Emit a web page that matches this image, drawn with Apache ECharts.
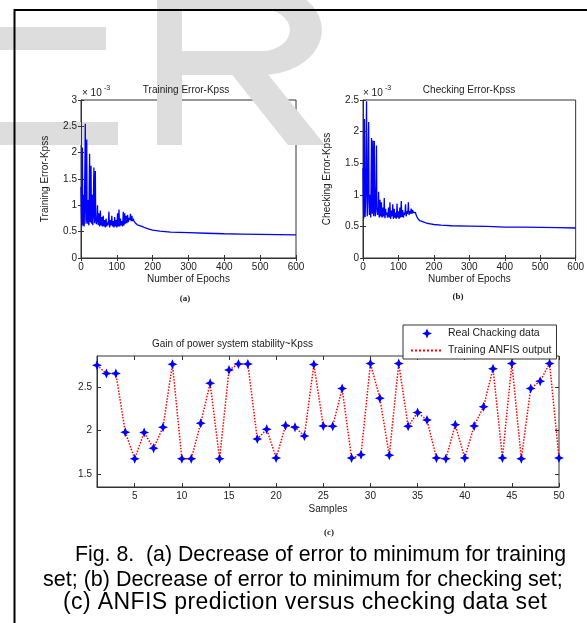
<!DOCTYPE html>
<html style="height: 100%">
<head>
    <meta charset="utf-8">
    <script src="https://cdn.jsdelivr.net/npm/echarts@6/dist/echarts.min.js"></script>
    <title>Fig. 8 ANFIS errors</title>
</head>
<body style="height: 100%; margin: 0; background: #fff">
<div id="container" style="width: 587px; height: 623px"></div>
<script type="text/javascript">
    // epochs of the error curves (every epoch while it oscillates, sparse on the flat tail)
    let epochs = [0, 1, 2, 3, 4, 5, 6, 7, 8, 9, 10, 11, 12, 13, 14, 15, 16, 17, 18, 19,
        20, 21, 22, 23, 24, 25, 26, 27, 28, 29, 30, 31, 32, 33, 34, 35, 36, 37, 38, 39,
        40, 41, 42, 43, 44, 45, 46, 47, 48, 49, 50, 51, 52, 53, 54, 55, 56, 57, 58, 59,
        60, 61, 62, 63, 64, 65, 66, 67, 68, 69, 70, 71, 72, 73, 74, 75, 76, 77, 78, 79,
        80, 81, 82, 83, 84, 85, 86, 87, 88, 89, 90, 91, 92, 93, 94, 95, 96, 97, 98, 99,
        100, 101, 102, 103, 104, 105, 106, 107, 108, 109, 110, 111, 112, 113, 114, 115, 116, 117, 118, 119,
        120, 121, 122, 123, 124, 125, 126, 127, 128, 129, 130, 131, 132, 133, 134, 135, 136, 137, 138, 139,
        140, 141, 142, 143, 144, 145, 146, 147, 148, 149, 150, 151, 152, 153, 154, 155, 156, 157, 158, 159,
        160, 170, 180, 190, 200, 220, 250, 300, 350, 400, 450, 500, 550, 600]
    // training error, x 10^-3
    let trainErr = [1.35, 0.9, 0.6, 1.5, 2.1, 0.7, 0.62, 1.2, 1.1, 0.6, 0.58, 1.8, 2.55, 0.9, 0.65, 1.6, 2.25, 0.8, 0.7, 0.65,
        1.1, 0.7, 0.62, 1.4, 1.98, 0.75, 0.68, 1.2, 1.75, 0.7, 0.65, 0.9, 1.2, 0.62, 0.6, 1.3, 1.72, 0.8, 0.66, 1.2,
        1.65, 0.75, 0.7, 0.64, 0.62, 0.8, 1.0, 0.7, 0.63, 0.7, 0.85, 0.65, 0.6, 0.75, 0.9, 0.68, 0.62, 0.7, 0.78, 0.64,
        0.6, 0.72, 0.8, 0.66, 0.6, 0.68, 0.72, 0.62, 0.58, 0.66, 0.75, 0.64, 0.6, 0.68, 0.7, 0.62, 0.6, 0.74, 0.88, 0.66,
        0.58, 0.64, 0.72, 0.62, 0.6, 0.7, 0.8, 0.64, 0.6, 0.66, 0.7, 0.62, 0.58, 0.68, 0.78, 0.64, 0.6, 0.66, 0.72, 0.62,
        0.58, 0.7, 0.85, 0.66, 0.6, 0.75, 0.92, 0.7, 0.6, 0.66, 0.75, 0.66, 0.62, 0.66, 0.7, 0.64, 0.6, 0.72, 0.88, 0.7,
        0.62, 0.72, 0.85, 0.7, 0.65, 0.72, 0.8, 0.7, 0.66, 0.72, 0.82, 0.72, 0.68, 0.7, 0.76, 0.72, 0.7, 0.76, 0.84, 0.74,
        0.7, 0.74, 0.8, 0.74, 0.7, 0.73, 0.75, 0.71, 0.68, 0.7, 0.7, 0.67, 0.66, 0.66, 0.66, 0.64, 0.63, 0.63, 0.63, 0.62,
        0.62, 0.6, 0.57, 0.55, 0.53, 0.51, 0.49, 0.48, 0.47, 0.46, 0.455, 0.45, 0.445, 0.44]
    // checking error, x 10^-3
    let checkErr = [1.42, 0.9, 0.62, 1.6, 2.2, 0.8, 0.65, 0.9, 1.2, 1.9, 2.48, 1.0, 0.66, 0.9, 1.3, 1.8, 2.15, 0.9, 0.68, 0.8,
        1.0, 0.7, 0.64, 1.3, 1.9, 0.9, 0.7, 1.2, 1.86, 0.8, 0.66, 1.3, 1.85, 0.9, 0.7, 0.66, 0.64, 1.2, 1.78, 0.8,
        0.72, 0.68, 0.66, 0.8, 1.05, 0.7, 0.64, 0.7, 0.92, 0.7, 0.66, 0.7, 0.88, 0.68, 0.64, 0.7, 0.8, 0.7, 0.66, 0.75,
        0.95, 0.7, 0.63, 0.7, 0.78, 0.68, 0.65, 0.68, 0.72, 0.64, 0.62, 0.7, 0.8, 0.68, 0.64, 0.72, 0.88, 0.7, 0.62, 0.68,
        0.75, 0.66, 0.64, 0.72, 0.85, 0.68, 0.62, 0.7, 0.78, 0.68, 0.64, 0.68, 0.72, 0.66, 0.62, 0.72, 0.86, 0.7, 0.64, 0.68,
        0.74, 0.66, 0.62, 0.7, 0.8, 0.68, 0.64, 0.75, 0.9, 0.72, 0.65, 0.7, 0.76, 0.68, 0.64, 0.68, 0.72, 0.68, 0.66, 0.74,
        0.85, 0.72, 0.66, 0.7, 0.74, 0.7, 0.68, 0.76, 0.88, 0.74, 0.68, 0.7, 0.74, 0.72, 0.7, 0.74, 0.78, 0.74, 0.7, 0.72,
        0.76, 0.74, 0.72, 0.74, 0.75, 0.72, 0.7, 0.71, 0.72, 0.7, 0.68, 0.67, 0.66, 0.65, 0.63, 0.63, 0.62, 0.61, 0.6, 0.6,
        0.59, 0.57, 0.55, 0.54, 0.53, 0.52, 0.51, 0.505, 0.5, 0.49, 0.49, 0.485, 0.48, 0.475]

    let samples = [1, 2, 3, 4, 5, 6, 7, 8, 9, 10, 11, 12, 13, 14, 15, 16, 17, 18, 19, 20,
        21, 22, 23, 24, 25, 26, 27, 28, 29, 30, 31, 32, 33, 34, 35, 36, 37, 38, 39, 40,
        41, 42, 43, 44, 45, 46, 47, 48, 49, 50]
    let checkingData = [2.745, 2.65, 2.65, 1.984, 1.68, 1.98, 1.80, 2.04, 2.757, 1.68,
        1.68, 2.086, 2.54, 1.68, 2.69, 2.76, 2.76, 1.905, 2.018, 1.69,
        2.06, 2.04, 1.94, 2.753, 2.055, 2.05, 2.48, 1.69, 1.727, 2.765,
        2.37, 1.72, 2.765, 2.05, 2.206, 2.123, 1.69, 1.68, 2.067, 1.69,
        2.055, 2.274, 2.706, 1.69, 2.765, 1.68, 2.48, 2.564, 2.765, 1.69]
    let anfisOutput = checkingData

    let sampleTicks = [5, 10, 15, 20, 25, 30, 35, 40, 45, 50]
    let gainTicks = [1.5, 2, 2.5]

    // caption: the last line is spread a little wider in the original
    let captionLine3 = '(c) ANFIS prediction versus checking data set'

    function pairs(xs, ys) {
        return xs.map((x, i) => [x, ys[i]])
    }

    let font = "'Liberation Sans', Arial, sans-serif"
    let axisColor = '#333'
    let txt = '#222'

    function ax(grid, min, max, opts) {
        return Object.assign({
            type: 'value', gridIndex: grid, min: min, max: max,
            axisLine: {show: true, onZero: false, lineStyle: {color: axisColor, width: 1}},
            axisTick: {inside: true, length: 3, lineStyle: {color: axisColor}},
            axisLabel: {fontSize: 10, fontFamily: font, color: txt, margin: 4},
            splitLine: {show: false},
            nameTextStyle: {fontSize: 10, fontFamily: font, color: txt},
            nameLocation: 'middle'
        }, opts)
    }

    function label(x, y, text, size, align, color) {
        return {
            type: 'text', z: 10, x: x, y: y,
            style: {text: text, font: size + 'px ' + font, fill: color || txt, textAlign: align, textVerticalAlign: 'middle', align: align, verticalAlign: 'middle'}
        }
    }

    let dom = document.getElementById('container')
    let chart = echarts.init(dom, null, {renderer: 'canvas'})

    // lay out the spread caption line character by character
    let capSize = 23
    let capFont = capSize + 'px ' + font
    let chars = captionLine3.split('')
    let capWidths = chars.map(c => echarts.format.getTextRect(c, capFont).width)
    let capStart = 63, capEnd = 547
    let capGap = (capEnd - capStart - capWidths.reduce((a, b) => a + b, 0)) / (chars.length - 1)
    let capX = capStart
    let line3 = []
    chars.forEach((c, i) => {
        if (c !== ' ') line3.push(label(capX, 603, c, capSize, 'left', '#000'))
        capX += capWidths[i] + capGap
    })

    let wm = '#dddddd'
    let serif = 'bold 9px "Liberation Serif", serif'
    chart.setOption({
        backgroundColor: '#fff',
        animation: false,
        grid: [
            {left: 81, top: 100, width: 215, height: 158, show: true, borderColor: axisColor, borderWidth: 1, backgroundColor: 'transparent'},
            {left: 363, top: 100, width: 214, height: 158, show: true, borderColor: axisColor, borderWidth: 1, backgroundColor: 'transparent'},
            {left: 97, top: 356, width: 462, height: 131, show: true, borderColor: axisColor, borderWidth: 1, backgroundColor: 'transparent'}
        ],
        xAxis: [
            ax(0, 0, 600, {interval: 100, name: 'Number of Epochs', nameGap: 16}),
            ax(0, 0, 600, {interval: 100, position: 'top', axisLine: {show: false}, axisLabel: {show: false}}),
            ax(1, 0, 600, {interval: 100, name: 'Number of Epochs', nameGap: 16}),
            ax(1, 0, 600, {interval: 100, position: 'top', axisLine: {show: false}, axisLabel: {show: false}}),
            ax(2, 1, 50, {name: 'Samples', nameGap: 17,
                axisTick: {inside: true, length: 4, lineStyle: {color: axisColor}, customValues: sampleTicks},
                axisLabel: {fontSize: 10, fontFamily: font, color: txt, margin: 4, customValues: sampleTicks}}),
            ax(2, 1, 50, {position: 'top', axisLine: {show: false}, axisLabel: {show: false},
                axisTick: {inside: true, length: 4, lineStyle: {color: axisColor}, customValues: sampleTicks}})
        ],
        yAxis: [
            ax(0, 0, 3, {interval: 0.5, name: 'Training Error-Kpss', nameGap: 31, nameRotate: 90}),
            ax(0, 0, 3, {interval: 0.5, position: 'right', axisLine: {show: false}, axisLabel: {show: false}}),
            ax(1, 0, 2.5, {interval: 0.5, name: 'Checking Error-Kpss', nameGap: 31, nameRotate: 90}),
            ax(1, 0, 2.5, {interval: 0.5, position: 'right', axisLine: {show: false}, axisLabel: {show: false}}),
            ax(2, 1.36, 2.85, {
                axisTick: {inside: true, length: 4, lineStyle: {color: axisColor}, customValues: gainTicks},
                axisLabel: {fontSize: 10, fontFamily: font, color: txt, margin: 5, customValues: gainTicks}}),
            ax(2, 1.36, 2.85, {position: 'right', axisLine: {show: false}, axisLabel: {show: false},
                axisTick: {inside: true, length: 4, lineStyle: {color: axisColor}, customValues: gainTicks}})
        ],
        legend: {
            orient: 'vertical', left: 403, top: 325,
            backgroundColor: '#fff', borderColor: axisColor, borderWidth: 1,
            padding: [3, 5, 3, 7], itemWidth: 32, itemHeight: 10, itemGap: 6,
            textStyle: {fontSize: 10.5, fontFamily: font, color: txt},
            data: [
                {name: 'Real Chacking data'},
                {name: 'Training ANFIS output', itemStyle: {color: 'rgba(0,0,0,0)', borderWidth: 0}}
            ]
        },
        series: [
            {
                type: 'line', xAxisIndex: 0, yAxisIndex: 0, data: pairs(epochs, trainErr),
                showSymbol: false, lineStyle: {color: '#0000ff', width: 1.3}
            },
            {
                type: 'line', xAxisIndex: 2, yAxisIndex: 2, data: pairs(epochs, checkErr),
                showSymbol: false, lineStyle: {color: '#0000ff', width: 1.3}
            },
            {
                name: 'Training ANFIS output', type: 'line', xAxisIndex: 4, yAxisIndex: 4,
                data: pairs(samples, anfisOutput), symbol: 'none',
                itemStyle: {color: '#ff0000'},
                lineStyle: {color: '#ff0000', width: 1.5, type: 'dotted'}, z: 3
            },
            {
                name: 'Real Chacking data', type: 'scatter', xAxisIndex: 4, yAxisIndex: 4,
                data: pairs(samples, checkingData),
                symbol: 'path://M0,-10 L3,-3 L10,0 L3,3 L0,10 L-3,3 L-10,0 L-3,-3 Z',
                symbolSize: 10, itemStyle: {color: '#0000ff', opacity: 1}, z: 4
            }
        ],
        graphic: [
            // faint watermark behind the figure
            {type: 'rect', z: 0, shape: {x: 0, y: 27, width: 106, height: 23}, style: {fill: wm}},
            {type: 'rect', z: 0, shape: {x: 0, y: 122, width: 118, height: 23}, style: {fill: wm}},
            {type: 'rect', z: 0, shape: {x: 157, y: 0, width: 25, height: 145}, style: {fill: wm}},
            {type: 'rect', z: 0, shape: {x: 182, y: -15, width: 80, height: 24}, style: {fill: wm}},
            {type: 'rect', z: 0, shape: {x: 182, y: 51, width: 80, height: 24}, style: {fill: wm}},
            {type: 'sector', z: 0, originX: 262, originY: 30, scaleX: 1.33,
                shape: {cx: 262, cy: 30, r: 45, r0: 21, startAngle: -Math.PI / 2, endAngle: Math.PI / 2, clockwise: true},
                style: {fill: wm}},
            {type: 'polygon', z: 0, shape: {points: [[222, 62], [258, 62], [325, 145], [288, 145]]}, style: {fill: wm}},
            // page border
            {type: 'line', z: 10, shape: {x1: 14.5, y1: 9, x2: 14.5, y2: 623}, style: {stroke: '#000', lineWidth: 2}},
            {type: 'line', z: 10, shape: {x1: 14, y1: 10, x2: 587, y2: 10}, style: {stroke: '#000', lineWidth: 2}},
            // subplot titles
            label(186, 90, 'Training Error-Kpss', 10, 'center'),
            label(469, 90, 'Checking Error-Kpss', 10, 'center'),
            label(152, 344, 'Gain of power system stability~Kpss', 10, 'left'),
            // exponent notes
            label(82, 93, '\u00d7 10', 10, 'left'),
            label(104, 88, '-3', 7, 'left'),
            label(363, 93, '\u00d7 10', 10, 'left'),
            label(385, 88, '-3', 7, 'left'),
            // panel letters
            {type: 'text', z: 10, x: 185, y: 299, style: {text: '(a)', font: serif, fill: txt, textAlign: 'center', textVerticalAlign: 'middle', align: 'center', verticalAlign: 'middle'}},
            {type: 'text', z: 10, x: 458, y: 297, style: {text: '(b)', font: serif, fill: txt, textAlign: 'center', textVerticalAlign: 'middle', align: 'center', verticalAlign: 'middle'}},
            {type: 'text', z: 10, x: 329, y: 533, style: {text: '(c)', font: serif, fill: txt, textAlign: 'center', textVerticalAlign: 'middle', align: 'center', verticalAlign: 'middle'}},
            // caption
            label(75, 555, 'Fig. 8.  (a) Decrease of error to minimum for training', 21.3, 'left', '#000'),
            label(43, 580, 'set; (b) Decrease of error to minimum for checking set;', 21.5, 'left', '#000')
        ].concat(line3)
    }, true)
</script>
</body>
</html>
